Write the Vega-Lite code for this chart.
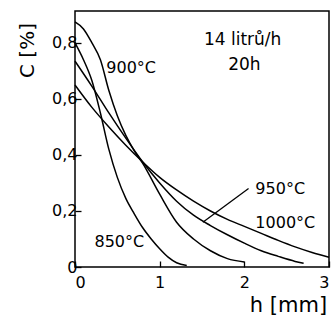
{
  "$schema": "https://vega.github.io/schema/vega-lite/v6.json",
  "autosize": "none",
  "padding": {"left": 75, "top": 11, "right": 2, "bottom": 53},
  "width": 254,
  "height": 256,
  "background": "white",
  "config": {
    "font": "DejaVu Sans",
    "view": {"stroke": "black", "strokeWidth": 1.5},
    "axis": {"grid": false, "domain": false, "ticks": true, "tickColor": "black", "tickWidth": 1.3, "tickSize": -6, "labelColor": "black", "labelFont": "DejaVu Sans", "labelFontSize": 16, "titleFont": "DejaVu Sans", "titleColor": "black", "titleFontWeight": "normal"}
  },
  "datasets": {
    "curves": [
      {"series": "850", "h": 0, "C": 0.80}, {"series": "850", "h": 0.1, "C": 0.74}, {"series": "850", "h": 0.2, "C": 0.665}, {"series": "850", "h": 0.3, "C": 0.55}, {"series": "850", "h": 0.4, "C": 0.42}, {"series": "850", "h": 0.5, "C": 0.32}, {"series": "850", "h": 0.6, "C": 0.245}, {"series": "850", "h": 0.7, "C": 0.19}, {"series": "850", "h": 0.8, "C": 0.14}, {"series": "850", "h": 0.9, "C": 0.1}, {"series": "850", "h": 1.0, "C": 0.065}, {"series": "850", "h": 1.1, "C": 0.035}, {"series": "850", "h": 1.2, "C": 0.015}, {"series": "850", "h": 1.32, "C": 0.005},
      {"series": "900", "h": 0, "C": 0.875}, {"series": "900", "h": 0.1, "C": 0.85}, {"series": "900", "h": 0.2, "C": 0.8}, {"series": "900", "h": 0.3, "C": 0.74}, {"series": "900", "h": 0.4, "C": 0.63}, {"series": "900", "h": 0.5, "C": 0.54}, {"series": "900", "h": 0.6, "C": 0.47}, {"series": "900", "h": 0.7, "C": 0.415}, {"series": "900", "h": 0.8, "C": 0.37}, {"series": "900", "h": 1.0, "C": 0.26}, {"series": "900", "h": 1.2, "C": 0.16}, {"series": "900", "h": 1.4, "C": 0.1}, {"series": "900", "h": 1.6, "C": 0.058}, {"series": "900", "h": 1.8, "C": 0.03}, {"series": "900", "h": 2.0, "C": 0.018},
      {"series": "950", "h": 0, "C": 0.735}, {"series": "950", "h": 0.2, "C": 0.645}, {"series": "950", "h": 0.4, "C": 0.55}, {"series": "950", "h": 0.6, "C": 0.46}, {"series": "950", "h": 0.8, "C": 0.375}, {"series": "950", "h": 1.0, "C": 0.3}, {"series": "950", "h": 1.2, "C": 0.235}, {"series": "950", "h": 1.4, "C": 0.185}, {"series": "950", "h": 1.6, "C": 0.148}, {"series": "950", "h": 1.8, "C": 0.115}, {"series": "950", "h": 2.0, "C": 0.085}, {"series": "950", "h": 2.2, "C": 0.058}, {"series": "950", "h": 2.4, "C": 0.038}, {"series": "950", "h": 2.6, "C": 0.02}, {"series": "950", "h": 2.7, "C": 0.013},
      {"series": "1000", "h": 0, "C": 0.65}, {"series": "1000", "h": 0.2, "C": 0.57}, {"series": "1000", "h": 0.4, "C": 0.5}, {"series": "1000", "h": 0.6, "C": 0.435}, {"series": "1000", "h": 0.8, "C": 0.375}, {"series": "1000", "h": 1.0, "C": 0.32}, {"series": "1000", "h": 1.2, "C": 0.275}, {"series": "1000", "h": 1.4, "C": 0.235}, {"series": "1000", "h": 1.6, "C": 0.2}, {"series": "1000", "h": 1.8, "C": 0.17}, {"series": "1000", "h": 2.0, "C": 0.145}, {"series": "1000", "h": 2.2, "C": 0.12}, {"series": "1000", "h": 2.4, "C": 0.095}, {"series": "1000", "h": 2.6, "C": 0.072}, {"series": "1000", "h": 2.8, "C": 0.052}, {"series": "1000", "h": 3.0, "C": 0.035}
    ],
    "labels": [
      {"h": 0.37, "C": 0.71, "text": "900°C"},
      {"h": 2.13, "C": 0.28, "text": "950°C"},
      {"h": 2.13, "C": 0.157, "text": "1000°C"},
      {"h": 0.23, "C": 0.09, "text": "850°C"}
    ],
    "notes": [
      {"h": 1.98, "C": 0.81, "text": "14 litrů/h"},
      {"h": 2.0, "C": 0.72, "text": "20h"}
    ],
    "pointer": [
      {"h": 2.05, "C": 0.28, "h2": 1.51, "C2": 0.16}
    ]
  },
  "layer": [
    {
      "data": {"name": "curves"},
      "mark": {"type": "line", "interpolate": "monotone", "color": "black", "strokeWidth": 1.5},
      "encoding": {
        "x": {"field": "h", "type": "quantitative", "scale": {"domain": [0, 3], "nice": false, "zero": false},
          "axis": {"values": [0, 1, 2, 3], "format": "d", "labelPadding": 13, "title": "h [mm]", "titleFontSize": 21, "titleX": 213, "titleY": 38, "titleBaseline": "middle", "titleAlign": "center"}},
        "y": {"field": "C", "type": "quantitative", "scale": {"domain": [0, 0.914], "nice": false},
          "axis": {"values": [0, 0.1, 0.2, 0.3, 0.4, 0.5, 0.6, 0.7, 0.8], "labelExpr": "round(datum.value*10) % 2 == 0 ? (datum.value == 0 ? '0' : replace(format(datum.value, '.1f'), '.', ',')) : ''", "labelPadding": 4, "title": "C [%]", "titleFontSize": 20, "titleX": -48, "titleY": 39, "titleAngle": -90, "titleAlign": "center", "titleBaseline": "middle"}},
        "detail": {"field": "series"}
      }
    },
    {
      "data": {"name": "pointer"},
      "mark": {"type": "rule", "color": "black", "strokeWidth": 1.3},
      "encoding": {
        "x": {"field": "h", "type": "quantitative"},
        "y": {"field": "C", "type": "quantitative"},
        "x2": {"field": "h2"},
        "y2": {"field": "C2"}
      }
    },
    {
      "data": {"name": "labels"},
      "mark": {"type": "text", "align": "left", "baseline": "middle", "fontSize": 16, "color": "black"},
      "encoding": {
        "x": {"field": "h", "type": "quantitative"},
        "y": {"field": "C", "type": "quantitative"},
        "text": {"field": "text"}
      }
    },
    {
      "data": {"name": "notes"},
      "mark": {"type": "text", "align": "center", "baseline": "middle", "fontSize": 17, "color": "black"},
      "encoding": {
        "x": {"field": "h", "type": "quantitative"},
        "y": {"field": "C", "type": "quantitative"},
        "text": {"field": "text"}
      }
    }
  ]
}
